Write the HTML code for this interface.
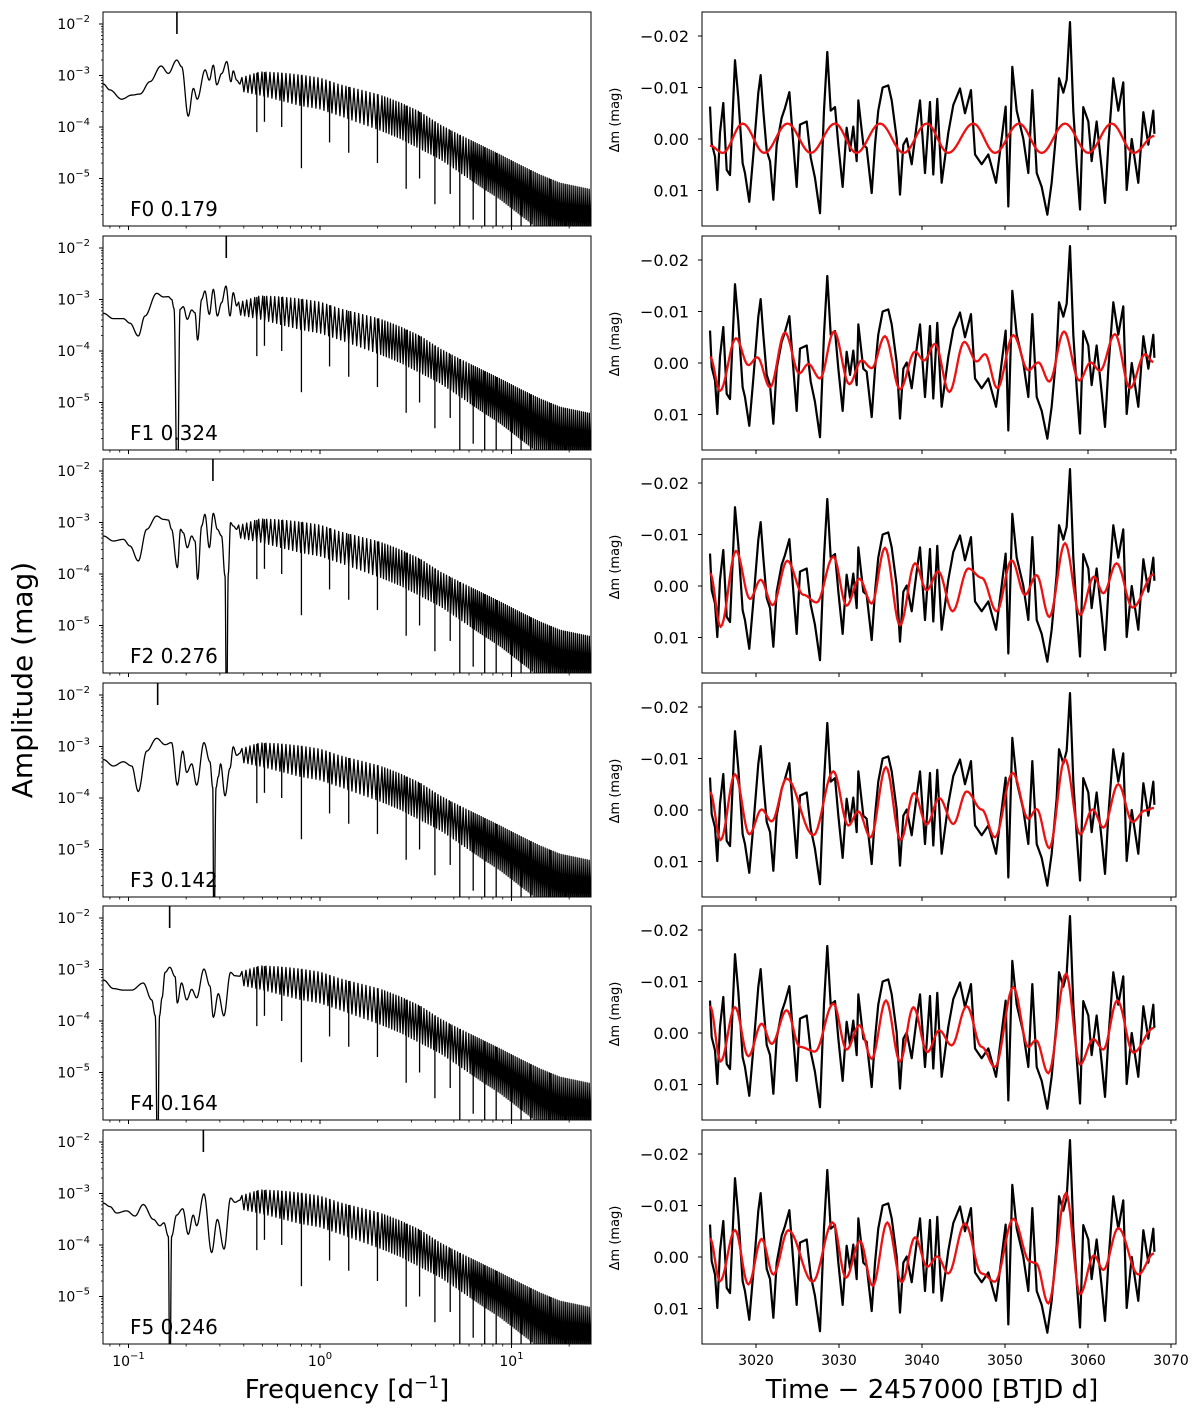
<!DOCTYPE html>
<html><head><meta charset="utf-8"><style>
html,body{margin:0;padding:0;background:#fff;}
svg{display:block;font-family:"DejaVu Sans","Liberation Sans",sans-serif;}
</style></head><body>
<svg id="fig" width="1200" height="1415" viewBox="0 0 1200 1415" xmlns="http://www.w3.org/2000/svg"></svg>
<script>
// ---------- DATA ----------
const panelLabels = ["F0 0.179","F1 0.324","F2 0.276","F3 0.142","F4 0.164","F5 0.246"];
const markerF = [0.179,0.324,0.276,0.142,0.164,0.246];

const lf0F = [-1.132,-1.097,-1.036,-0.983,-0.94,-0.888,-0.83,-0.792,-0.748,-0.722,-0.688,-0.661,-0.641,-0.60,-0.578,-0.557,-0.539,-0.513,-0.487,-0.465,-0.453,-0.435,-0.418];
const lf0A = [-3.165,-3.28,-3.46,-3.38,-3.36,-3.12,-2.815,-2.96,-2.70,-2.83,-3.79,-3.25,-3.46,-2.89,-3.09,-2.80,-3.18,-2.96,-2.73,-3.12,-2.91,-3.09,-3.165];
const lf1F = [-1.131,-1.079,-1.027,-0.992,-0.949,-0.914,-0.853,-0.818,-0.792,-0.775,-0.762,-0.745,-0.731,-0.714,-0.693,-0.670,-0.653,-0.639,-0.618,-0.601,-0.578,-0.557,-0.536,-0.514,-0.491,-0.470,-0.453,-0.435];
const lf1A = [-3.268,-3.372,-3.372,-3.46,-3.709,-3.32,-2.88,-2.95,-2.945,-2.997,-3.178,-7,-3.191,-3.139,-3.385,-3.204,-3.256,-3.787,-2.997,-2.835,-3.288,-2.803,-3.32,-3.062,-2.738,-3.32,-2.868,-3.126];
const lf2F = [-1.131,-1.079,-1.027,-0.992,-0.949,-0.905,-0.853,-0.818,-0.792,-0.775,-0.745,-0.728,-0.714,-0.693,-0.670,-0.653,-0.639,-0.618,-0.601,-0.578,-0.557,-0.536,-0.514,-0.496,-0.488,-0.479,-0.467,-0.453,-0.435];
const lf2A = [-3.262,-3.359,-3.327,-3.456,-3.748,-3.133,-2.874,-2.939,-2.951,-3.133,-3.877,-3.133,-3.198,-3.489,-3.262,-3.359,-4.103,-3.068,-2.841,-3.489,-2.822,-3.133,-3.262,-4.039,-7,-4.0,-3.003,-3.068,-3.133];
const lf3F = [-1.131,-1.079,-1.027,-0.983,-0.949,-0.905,-0.853,-0.809,-0.775,-0.745,-0.717,-0.696,-0.670,-0.644,-0.606,-0.575,-0.560,-0.554,-0.543,-0.531,-0.519,-0.496,-0.470,-0.453,-0.435,-0.418];
const lf3A = [-3.254,-3.379,-3.296,-3.379,-3.874,-3.089,-2.841,-2.965,-2.924,-3.75,-3.089,-3.503,-3.337,-3.75,-2.924,-3.296,-3.8,-7,-3.8,-3.585,-3.337,-3.957,-3.42,-3.006,-3.172,-3.131];
const lf4F = [-1.131,-1.079,-1.027,-0.983,-0.923,-0.879,-0.860,-0.848,-0.838,-0.825,-0.809,-0.784,-0.757,-0.745,-0.723,-0.696,-0.670,-0.644,-0.606,-0.575,-0.557,-0.531,-0.502,-0.467,-0.444,-0.418];
const lf4A = [-3.204,-3.37,-3.40,-3.40,-3.262,-3.59,-3.9,-7,-3.9,-3.55,-3.056,-2.957,-3.138,-3.65,-3.262,-3.59,-3.386,-3.55,-2.99,-3.32,-3.928,-3.47,-3.90,-3.056,-3.122,-3.13];
const lf5F = [-1.131,-1.097,-1.062,-1.010,-0.966,-0.923,-0.870,-0.836,-0.815,-0.792,-0.784,-0.775,-0.749,-0.717,-0.688,-0.662,-0.644,-0.606,-0.566,-0.536,-0.501,-0.467,-0.444,-0.418];
const lf5A = [-3.188,-3.254,-3.379,-3.337,-3.437,-3.213,-3.503,-3.626,-3.569,-3.833,-7,-3.833,-3.42,-3.296,-3.792,-3.42,-3.626,-3.006,-4.147,-3.503,-4.08,-3.089,-3.171,-3.13];
const lowF = [lf0F,lf1F,lf2F,lf3F,lf4F,lf5F];
const lowA = [lf0A,lf1A,lf2A,lf3A,lf4A,lf5A];

const envF   = [-0.418,-0.313,-0.209,-0.104,0,0.104,0.209,0.313,0.418,0.522,0.627,0.731,0.836,0.94,1.044,1.149,1.253,1.42];
const envTop = [-3.05,-2.93,-2.95,-2.99,-3.05,-3.18,-3.28,-3.38,-3.53,-3.71,-3.96,-4.16,-4.35,-4.54,-4.74,-4.93,-5.09,-5.22];
const envBot = [-3.3,-3.38,-3.48,-3.58,-3.65,-3.78,-3.92,-4.06,-4.22,-4.42,-4.62,-4.88,-5.15,-5.4,-5.7,-6.0,-6.2,-6.2];
const spikeF = [-0.33,-0.29,-0.2,-0.097,0.05,0.15,0.3,0.45,0.52,0.6,0.68,0.73,0.8,0.86,0.92,1.0,1.05,1.1,1.2,1.28];
const spikeA = [-4.1,-3.9,-4.0,-4.8,-4.3,-4.5,-4.7,-5.2,-5.0,-5.5,-5.3,-6.2,-5.8,-6.2,-6.2,-6.2,-6.2,-6.2,-6.2,-6.2];

const lcT = [3014.46,3014.66,3015.06,3015.34,3015.66,3016.06,3016.47,3016.87,3017.47,3017.87,3018.39,3018.67,3019.19,3019.68,3020.28,3020.56,3020.88,3021.29,3021.69,3022.09,3022.49,3023.09,3023.49,3024.02,3024.5,3024.9,3025.3,3026.11,3026.59,3027.1,3027.71,3028.19,3028.59,3029.0,3029.52,3029.92,3030.44,3030.92,3031.33,3031.72,3032.13,3032.33,3032.93,3033.33,3033.94,3034.34,3034.73,3035.26,3035.94,3036.35,3036.95,3037.35,3037.75,3038.16,3038.76,3039.36,3039.76,3040.36,3040.96,3041.36,3041.84,3042.37,3043.17,3043.77,3044.58,3045.18,3045.9,3046.39,3047.19,3047.99,3048.92,3049.6,3050.08,3050.4,3050.88,3051.41,3052.2,3052.81,3053.29,3053.82,3054.42,3055.1,3055.62,3056.22,3056.51,3057.03,3057.43,3057.83,3058.23,3058.64,3059.04,3059.43,3060.04,3060.44,3061.04,3061.64,3062.05,3062.45,3063.05,3063.65,3064.25,3064.66,3065.27,3066.06,3066.67,3067.27,3067.87,3068.0];
const lcV = [-0.0063,0.0008,0.0034,0.0099,-0.0012,-0.007,0.006,0.007,-0.0153,-0.008,0.0047,0.0066,0.0122,0.003,-0.009,-0.0124,-0.0055,0.0023,0.0043,0.0118,0.0011,-0.0041,-0.006,-0.0091,0.0011,0.0093,-0.0028,-0.0034,0.0036,0.0075,0.0144,-0.0055,-0.0169,-0.0055,-0.0062,0.0011,0.0093,-0.0022,0.0023,-0.0024,0.0043,-0.0075,0.0011,0.0017,0.0105,0.0011,-0.0055,-0.010,-0.0104,-0.0075,-0.0001,0.0108,0.0011,-0.0001,0.0049,-0.0028,-0.0075,0.0066,-0.0072,0.0069,-0.0078,0.0085,-0.0012,-0.0066,-0.0098,-0.005,-0.0095,0.003,0.0049,0.003,0.0085,-0.0001,-0.0063,0.0131,-0.014,-0.0055,-0.0001,0.0066,-0.0095,0.0066,0.0093,0.0147,0.0085,-0.0022,-0.0118,-0.009,-0.0115,-0.0227,-0.0055,0.0049,0.0137,-0.0062,-0.0034,0.0043,-0.0034,0.0056,0.0124,0.0011,-0.0118,-0.0055,-0.011,0.0099,0,0.0085,-0.0052,0.0011,-0.0055,-0.001];

const red0T = [3014.46,3016.0,3018.39,3021.0,3023.8,3026.6,3029.52,3032.1,3034.95,3037.8,3040.57,3043.17,3046.18,3048.8,3051.69,3054.42,3057.23,3060.04,3062.85,3065.54,3068.0];
const red0V = [0.0013,0.0027,-0.003,0.0027,-0.003,0.0027,-0.003,0.0027,-0.003,0.0027,-0.003,0.0027,-0.003,0.0027,-0.003,0.0027,-0.003,0.0027,-0.003,0.0027,-0.0006];
const red1T = [3014.46,3015.66,3017.59,3019.08,3020.16,3021.69,3023.49,3025.22,3026.31,3027.71,3029.40,3031.24,3032.73,3033.94,3035.54,3037.35,3039.16,3040.24,3041.57,3043.29,3045.10,3046.59,3047.59,3049.08,3051.0,3052.81,3054.02,3055.34,3057.11,3058.95,3060.32,3061.44,3063.25,3065.06,3066.87,3067.87];
const red1V = [-0.0012,0.0054,-0.0048,0.0004,-0.0011,0.0047,-0.0059,0.002,0.0002,0.003,-0.0061,0.0041,-0.0005,0.001,-0.0052,0.0051,-0.0022,-0.0005,-0.0037,0.0056,-0.0041,-0.0003,-0.0017,0.0049,-0.0054,0.0014,-0.0001,0.0036,-0.0061,0.0034,-0.0001,0.0015,-0.0056,0.0049,-0.0017,-0.0002];
const red2T = [3014.46,3015.74,3017.59,3019.28,3020.56,3022.01,3023.77,3025.70,3027.31,3029.32,3030.92,3032.45,3033.94,3035.54,3037.35,3039.16,3040.56,3041.97,3043.69,3045.58,3047.19,3049.0,3050.80,3052.41,3053.81,3055.34,3057.23,3059.04,3060.72,3061.85,3063.45,3065.38,3067.95];
const red2V = [-0.0025,0.0079,-0.0068,0.0025,-0.0012,0.0037,-0.0049,0.0017,0.0032,-0.0057,0.0038,-0.0014,0.0034,-0.0074,0.0076,-0.0044,0.0008,-0.0028,0.0049,-0.0034,-0.0016,0.0049,-0.005,0.0017,-0.0021,0.006,-0.0083,0.0056,-0.0018,0.0014,-0.0044,0.0042,-0.0023];
const red3T = [3014.46,3015.74,3017.47,3019.20,3020.68,3021.89,3023.69,3026.91,3029.32,3031.12,3032.33,3033.81,3035.66,3037.43,3039.04,3040.56,3042.09,3043.77,3045.38,3047.19,3048.79,3050.92,3052.81,3053.81,3055.34,3057.23,3059.04,3060.56,3061.85,3063.65,3065.38,3066.87,3067.95];
const red3V = [-0.0035,0.0058,-0.0069,0.0047,-0.0001,0.0022,-0.0061,0.0049,-0.0075,0.003,0.0003,0.0053,-0.0083,0.0058,-0.0033,0.0028,-0.0023,0.0027,-0.0036,-0.0001,0.0053,-0.0072,0.0017,-0.0002,0.0074,-0.0099,0.0047,-0.0001,0.0034,-0.005,0.0023,0.0001,-0.0004];
const red4T = [3014.46,3015.74,3017.47,3019.08,3020.68,3021.89,3023.69,3025.30,3027.11,3029.32,3030.92,3032.45,3033.94,3035.66,3037.35,3038.96,3040.64,3042.09,3043.57,3045.38,3047.19,3048.79,3051.0,3052.81,3053.73,3055.22,3057.35,3059.04,3060.64,3061.85,3063.53,3065.46,3067.95];
const red4V = [-0.0052,0.0055,-0.005,0.0045,-0.0018,0.0021,-0.0044,0.0027,0.0036,-0.0057,0.0032,-0.0015,0.005,-0.0063,0.0055,-0.005,0.0037,-0.0005,0.0024,-0.0052,0.0027,0.0066,-0.0089,0.0027,0.0014,0.0078,-0.0115,0.0061,0.0012,0.0032,-0.0063,0.0038,-0.001];
const red5T = [3014.46,3015.66,3017.47,3019.08,3020.68,3022.09,3023.90,3026.83,3029.24,3030.84,3032.53,3034.06,3035.82,3037.55,3039.16,3040.64,3041.85,3043.17,3045.18,3047.19,3048.79,3051.0,3053.01,3053.73,3055.22,3057.35,3059.04,3060.72,3061.85,3063.65,3066.06,3067.95];
const red5V = [-0.0036,0.0047,-0.0052,0.0053,-0.0035,0.0034,-0.0052,0.0048,-0.0067,0.004,-0.0031,0.0056,-0.0067,0.0049,-0.0038,0.0019,-0.0001,0.0032,-0.0065,0.0032,0.0048,-0.0074,0.0009,0.0012,0.009,-0.0124,0.0072,-0.0003,0.0025,-0.0056,0.0034,-0.0007];
const redT = [red0T,red1T,red2T,red3T,red4T,red5T];
const redV = [red0V,red1V,red2V,red3V,red4V,red5V];

const lcYTicks = [-0.02,-0.01,0,0.01];
const lcYTickLabels = ["\u22120.02","\u22120.01","0.00","0.01"];
const timeTicks = [3020,3030,3040,3050,3060,3070];
const ampDecades = [-2,-3,-4,-5];
const freqDecades = [-1,0,1];

// ---------- LAYOUT ----------
const NS = "http://www.w3.org/2000/svg";
const svg = document.getElementById("fig");
const PT = [12,236,459,683,906,1130], PH = 214;
const LX0 = 103, LX1 = 591, RX0 = 702, RX1 = 1176;
function mk(tag, attrs, parent){ const e=document.createElementNS(NS,tag); for(const k in attrs) e.setAttribute(k,attrs[k]); (parent||svg).appendChild(e); return e; }
const fx = lf => 320 + lf*191.5;
const fy = (top, la) => top + 12 + (-2 - la)*51.5;
const tx = t => 756 + (t-3020)*8.3;
const vy = (top, v) => top + 127 + v*5150;
function interp(xs, ys, x){ if(x<=xs[0]) return ys[0]; for(let i=1;i<xs.length;i++){ if(x<=xs[i]){ const s=(x-xs[i-1])/(xs[i]-xs[i-1]); return ys[i-1]+s*(ys[i]-ys[i-1]); } } return ys[ys.length-1]; }
function cosPath(xs, ys, X, Y){ let d="M"+X(xs[0]).toFixed(2)+","+Y(ys[0]).toFixed(2); for(let i=1;i<xs.length;i++){ for(let j=1;j<=10;j++){ const s=j/10, w=(1-Math.cos(Math.PI*s))/2; d+="L"+X(xs[i-1]+(xs[i]-xs[i-1])*s).toFixed(2)+","+Y(ys[i-1]+(ys[i]-ys[i-1])*w).toFixed(2);} } return d; }
const defs = mk("defs",{});

for(let p=0;p<6;p++){
  const top = PT[p], bot = top+PH;
  const cl = mk("clipPath",{id:"cl"+p},defs); mk("rect",{x:LX0,y:top,width:LX1-LX0,height:PH},cl);
  const gL = mk("g",{"clip-path":"url(#cl"+p+")"});
  
  
  const Fy = la => fy(top, la);
  let d = cosPath(lowF[p], lowA[p], fx, Fy);
  const startLf = lowF[p][lowF[p].length-1];
  let k=1;
  let x = fx(startLf);
  while(x <= LX1+2){
    const step = x < 380 ? 2.0 : (x < 470 ? 1.4 : 1.0);
    x += step;
    const lf=(x-320)/191.5;
    const la = (k%2===0)? interp(envF,envBot,lf) : interp(envF,envTop,lf);
    d+="L"+x.toFixed(2)+","+Fy(la).toFixed(2); k++;
  }
  const spec = mk("path",{d:d,fill:"none",stroke:"#000","stroke-width":1.3,"stroke-linejoin":"round"},gL);
  
  
  for(let i=0;i<spikeF.length;i++){
    const sx0=fx(spikeF[i]);
    const sp = mk("line",{x1:sx0,x2:sx0,y1:Fy(interp(envF,envTop,spikeF[i])),y2:Fy(spikeA[i]),stroke:"#000","stroke-width":1.3},gL);
    
    
  }
  const mx = fx(Math.log10(markerF[p]));
  const mkLine = mk("line",{x1:mx,x2:mx,y1:top,y2:top+22,stroke:"#000","stroke-width":1.6});
  
  
  const frL = mk("rect",{x:LX0,y:top,width:LX1-LX0,height:PH,fill:"none",stroke:"#000","stroke-width":1});
  
  
  const lab = mk("text",{x:130,y:top+204,"font-size":20,fill:"#000"}); lab.textContent = panelLabels[p];
  
  
  for(const dec of ampDecades){
    const y=Fy(dec);
    mk("line",{x1:LX0-4,x2:LX0,y1:y,y2:y,stroke:"#000","stroke-width":1});
    const t=mk("text",{x:90,y:y+5,"font-size":14,"text-anchor":"end"});
    
    
    t.textContent="10";
    const s=mk("tspan",{dy:-7,"font-size":10},t); s.textContent="\u2212"+(-dec);
  }
  for(let dec=-6; dec<=-2; dec++) for(let m=2;m<=9;m++){ const y=Fy(dec+Math.log10(m)); if(y>top&&y<bot) mk("line",{x1:LX0-2,x2:LX0,y1:y,y2:y,stroke:"#000","stroke-width":0.8}); }
  for(const dec of freqDecades){ const xx=fx(dec); mk("line",{x1:xx,x2:xx,y1:bot,y2:bot+4,stroke:"#000","stroke-width":1}); }
  for(let dec=-2; dec<=1; dec++) for(let m=2;m<=9;m++){ const xx=fx(dec+Math.log10(m)); if(xx>LX0&&xx<LX1) mk("line",{x1:xx,x2:xx,y1:bot,y2:bot+2.5,stroke:"#000","stroke-width":0.8}); }

  const cr = mk("clipPath",{id:"cr"+p},defs); mk("rect",{x:RX0,y:top,width:RX1-RX0,height:PH},cr);
  const gR = mk("g",{"clip-path":"url(#cr"+p+")"});
  
  
  const Vy = v => vy(top, v);
  let d2=""; for(let i=0;i<Math.min(lcT.length,lcV.length);i++) d2+=(i?"L":"M")+tx(lcT[i]).toFixed(2)+","+Vy(lcV[i]).toFixed(2);
  const lc = mk("path",{d:d2,fill:"none",stroke:"#000","stroke-width":2.2,"stroke-linejoin":"round"},gR);
  
  
  const rc = mk("path",{d:cosPath(redT[p],redV[p],tx,Vy),fill:"none",stroke:"#ee1111","stroke-width":2.3},gR);
  
  
  const frR = mk("rect",{x:RX0,y:top,width:RX1-RX0,height:PH,fill:"none",stroke:"#000","stroke-width":1});
  
  
  for(let i=0;i<lcYTicks.length;i++){
    const y=Vy(lcYTicks[i]);
    mk("line",{x1:RX0-4,x2:RX0,y1:y,y2:y,stroke:"#000","stroke-width":1});
    const t=mk("text",{x:689,y:y+6,"font-size":16,"text-anchor":"end"}); t.textContent=lcYTickLabels[i];
    
    
  }
  for(const tt of timeTicks){ const xx=tx(tt); mk("line",{x1:xx,x2:xx,y1:bot,y2:bot+4,stroke:"#000","stroke-width":1}); }
  const yl = mk("text",{x:0,y:0,"font-size":13,"text-anchor":"middle",transform:"translate(619,"+(top+108)+") rotate(-90)"}); yl.textContent="\u0394m (mag)";
  
  
}
const lastBot = PT[5]+PH;
for(const dec of freqDecades){
  const t=mk("text",{x:fx(dec),y:lastBot+22,"font-size":14,"text-anchor":"middle"});
  
  
  t.textContent="10"; const s=mk("tspan",{dy:-7,"font-size":10},t); s.textContent = dec<0 ? "\u2212"+(-dec) : String(dec);
}
for(const tt of timeTicks){
  const t=mk("text",{x:tx(tt),y:lastBot+21,"font-size":14,"text-anchor":"middle"}); t.textContent=String(tt);
  
  
}
const xl1 = mk("text",{x:347,y:1398,"font-size":26,"text-anchor":"middle"});


xl1.textContent="Frequency [d"; const sx=mk("tspan",{dy:-10,"font-size":17},xl1); sx.textContent="\u22121"; const sx2=mk("tspan",{dy:10},xl1); sx2.textContent="]";
const xl2 = mk("text",{x:932,y:1398,"font-size":26,"text-anchor":"middle"}); xl2.textContent="Time \u2212 2457000 [BTJD d]";


const yl0 = mk("text",{x:0,y:0,"font-size":28,"text-anchor":"middle",transform:"translate(32,680) rotate(-90)"}); yl0.textContent="Amplitude (mag)";


</script>
</body></html>
